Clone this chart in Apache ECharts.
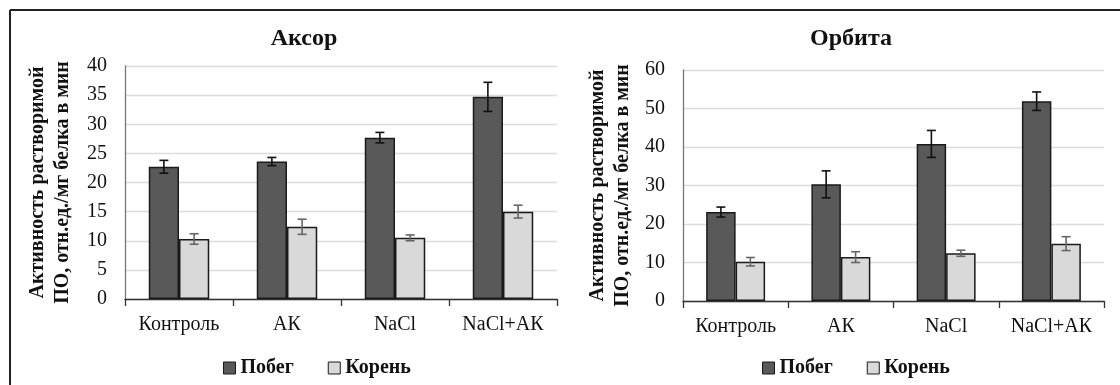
<!DOCTYPE html>
<html><head><meta charset="utf-8">
<script src="https://cdn.jsdelivr.net/npm/echarts@6/dist/echarts.min.js"></script>
<style>html,body{margin:0;padding:0;background:#fff}#c{width:1120px;height:385px}</style>
</head><body><div id="c"></div>
<script>
const categories = ['Контроль', 'АК', 'NaCl', 'NaCl+АК'];
const seriesNames = ['Побег', 'Корень'];
const titles = ['Аксор', 'Орбита'];
const yAxisLabel = 'Активность растворимой\nПО, отн.ед./мг белка в мин';

// Аксор
const aksorPobeg = [22.7, 23.6, 27.7, 34.7];
const aksorPobegErr = [1.1, 0.7, 0.9, 2.5];
const aksorKoren = [10.3, 12.4, 10.5, 15.0];
const aksorKorenErr = [0.9, 1.3, 0.5, 1.1];
// Орбита
const orbitaPobeg = [23.1, 30.3, 40.8, 51.9];
const orbitaPobegErr = [1.3, 3.5, 3.5, 2.4];
const orbitaKoren = [10.2, 11.4, 12.4, 14.9];
const orbitaKorenErr = [1.1, 1.4, 0.8, 1.8];

const yMax = [40, 60];
const yInterval = [5, 10];

const FONT = 'Liberation Serif';
const TXT = '#111';
const DARK = '#595959';
const LIGHT = '#d9d9d9';
const BAR_W = 0.28;

function errSeries(name, vals, errs, idx, side, color) {
  return {
    type: 'custom', name: name, xAxisIndex: idx, yAxisIndex: idx, z: 5,
    data: vals.map((v, i) => [i, v, errs[i]]),
    encode: { x: 0, y: 1 },
    silent: true,
    renderItem: function (params, api) {
      const i = api.value(0), v = api.value(1), e = api.value(2);
      const w = api.size([1, 0])[0];
      const cx = api.coord([i, v])[0] + side * w * BAR_W / 2;
      const yt = api.coord([i, v + e])[1];
      const yb = api.coord([i, v - e])[1];
      const h = 4.5;
      const st = { stroke: color, lineWidth: 1.6 };
      return { type: 'group', children: [
        { type: 'line', shape: { x1: cx, y1: yt, x2: cx, y2: yb }, style: st },
        { type: 'line', shape: { x1: cx - h, y1: yt, x2: cx + h, y2: yt }, style: st },
        { type: 'line', shape: { x1: cx - h, y1: yb, x2: cx + h, y2: yb }, style: st }
      ]};
    }
  };
}

function barSeries(name, vals, idx, color) {
  return {
    type: 'bar', name: name, xAxisIndex: idx, yAxisIndex: idx,
    data: vals, barWidth: (BAR_W * 100) + '%', barGap: '0%',
    itemStyle: { color: color, borderColor: '#1a1a1a', borderWidth: 1.5 },
    silent: true
  };
}

const grids = [
  { left: 125, right: 563, top: 66, bottom: 86 },
  { left: 683, right: 16, top: 70, bottom: 84 }
];

const chart = echarts.init(document.getElementById('c'), null, { renderer: 'canvas' });
chart.setOption({
  animation: false,
  backgroundColor: '#fff',
  title: [
    { text: titles[0], left: 299, top: 22, textAlign: 'center', textStyle: { fontFamily: FONT, fontSize: 24, fontWeight: 'bold', color: TXT } },
    { text: titles[1], left: 846, top: 22, textAlign: 'center', textStyle: { fontFamily: FONT, fontSize: 24, fontWeight: 'bold', color: TXT } }
  ],
  legend: [0, 1].map(k => ({
    data: seriesNames, left: k === 0 ? 223 : 762, top: 358, icon: 'rect',
    itemWidth: 12, itemHeight: 12, itemGap: 34, padding: 0,
    itemStyle: { borderColor: '#1a1a1a', borderWidth: 1 },
    textStyle: { fontFamily: FONT, fontSize: 20, fontWeight: 'bold', color: TXT }
  })),
  grid: grids,
  xAxis: [0, 1].map(k => ({
    type: 'category', gridIndex: k, data: categories,
    axisLine: { lineStyle: { color: '#333', width: 1.3 } },
    axisTick: { show: true, length: 7, lineStyle: { color: '#333', width: 1.3 } },
    axisLabel: { fontFamily: FONT, fontSize: 20, color: TXT, margin: 16, interval: 0 }
  })),
  yAxis: [0, 1].map(k => ({
    type: 'value', gridIndex: k, min: 0, max: yMax[k], interval: yInterval[k],
    name: yAxisLabel, nameLocation: 'middle', nameRotate: 90, nameGap: k === 0 ? 50 : 48,
    nameTextStyle: { fontFamily: FONT, fontSize: 20, fontWeight: 'bold', color: TXT, lineHeight: 25 },
    axisLine: { show: true, lineStyle: { color: '#777', width: 1.3 } },
    axisTick: { show: false },
    axisLabel: { fontFamily: FONT, fontSize: 20, color: TXT, margin: 18 },
    splitLine: { lineStyle: { color: '#dcdcdc', width: 1.3 } }
  })),
  series: [
    barSeries(seriesNames[0], aksorPobeg, 0, DARK),
    barSeries(seriesNames[1], aksorKoren, 0, LIGHT),
    barSeries(seriesNames[0], orbitaPobeg, 1, DARK),
    barSeries(seriesNames[1], orbitaKoren, 1, LIGHT),
    errSeries(seriesNames[0], aksorPobeg, aksorPobegErr, 0, -1, '#111'),
    errSeries(seriesNames[1], aksorKoren, aksorKorenErr, 0, 1, '#666'),
    errSeries(seriesNames[0], orbitaPobeg, orbitaPobegErr, 1, -1, '#111'),
    errSeries(seriesNames[1], orbitaKoren, orbitaKorenErr, 1, 1, '#666')
  ],
  graphic: [
    { type: 'line', shape: { x1: 10, y1: 10, x2: 1120, y2: 10 }, style: { stroke: '#222', lineWidth: 2 } },
    { type: 'line', shape: { x1: 10, y1: 10, x2: 10, y2: 385 }, style: { stroke: '#222', lineWidth: 2 } }
  ]
});
</script></body></html>
